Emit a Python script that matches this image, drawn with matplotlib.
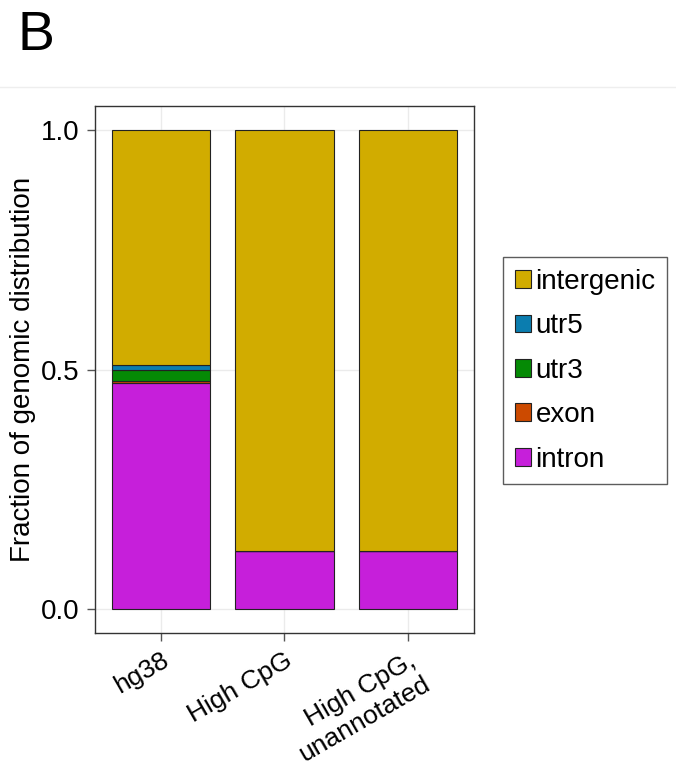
import matplotlib
matplotlib.use('Agg')
import matplotlib.pyplot as plt
from matplotlib.patches import Patch
from matplotlib.lines import Line2D

plt.rcParams['font.family'] = ['Liberation Sans', 'DejaVu Sans']

samples = ['hg38', 'High CpG', 'High CpG,\nunannotated']
categories = ['intron', 'exon', 'utr3', 'utr5', 'intergenic']
colors = ['#C61FDA', '#CC4A00', '#058A05', '#0B7DAF', '#D1AC00']

intron = [0.471, 0.122, 0.121]
exon = [0.006, 0.0, 0.0]
utr3 = [0.022, 0.0, 0.0]
utr5 = [0.010, 0.0, 0.0]
intergenic = [0.491, 0.878, 0.879]

fig = plt.figure(figsize=(6.76, 7.66), dpi=100)
ax = fig.add_axes([0.1405, 0.1736, 0.5607, 0.688])

x = list(range(len(samples)))
bottom = [0.0] * len(samples)
for vals, col in zip([intron, exon, utr3, utr5, intergenic], colors):
    ax.bar(x, vals, bottom=bottom, width=0.8, color=col,
           edgecolor='#222222', linewidth=0.8, zorder=3)
    bottom = [b + v for b, v in zip(bottom, vals)]

ax.set_xlim(-0.535, 2.535)
ax.set_ylim(-0.05, 1.05)
ax.set_yticks([0.0, 0.5, 1.0])
ax.set_yticklabels(['0.0', '0.5', '1.0'], fontsize=20)
ax.set_xticks(x)
ax.set_xticklabels(samples, fontsize=19, rotation=30, ha='right', va='top',
                   rotation_mode='anchor', multialignment='right')
ax.grid(True, color='#ebebeb', linewidth=1, zorder=0)
ax.tick_params(length=6, width=1, color='#555555', pad=5)
for s in ax.spines.values():
    s.set_color('#333333')
    s.set_linewidth(1)
ax.set_ylabel('Fraction of genomic distribution', fontsize=20, labelpad=4)

handles = [Patch(facecolor=c, edgecolor='#222222', linewidth=0.8)
           for c in colors[::-1]]
leg = fig.legend(handles, categories[::-1], loc='upper left',
                 bbox_to_anchor=(503 / 676, 1 - 257 / 766), fontsize=20,
                 frameon=True, fancybox=False, edgecolor='#333333',
                 handlelength=0.6, handleheight=0.6, handletextpad=0.15,
                 labelspacing=0.665, borderpad=0.42, borderaxespad=0)
leg.get_frame().set_linewidth(1)

fig.text(18 / 676, 1 - 50 / 766, 'B', fontsize=40, ha='left', va='baseline')
fig.add_artist(Line2D([0, 1], [1 - 87 / 766, 1 - 87 / 766],
                      transform=fig.transFigure, color='#eeeeee', linewidth=1))

fig.savefig('out.png', dpi=100, facecolor='white')
